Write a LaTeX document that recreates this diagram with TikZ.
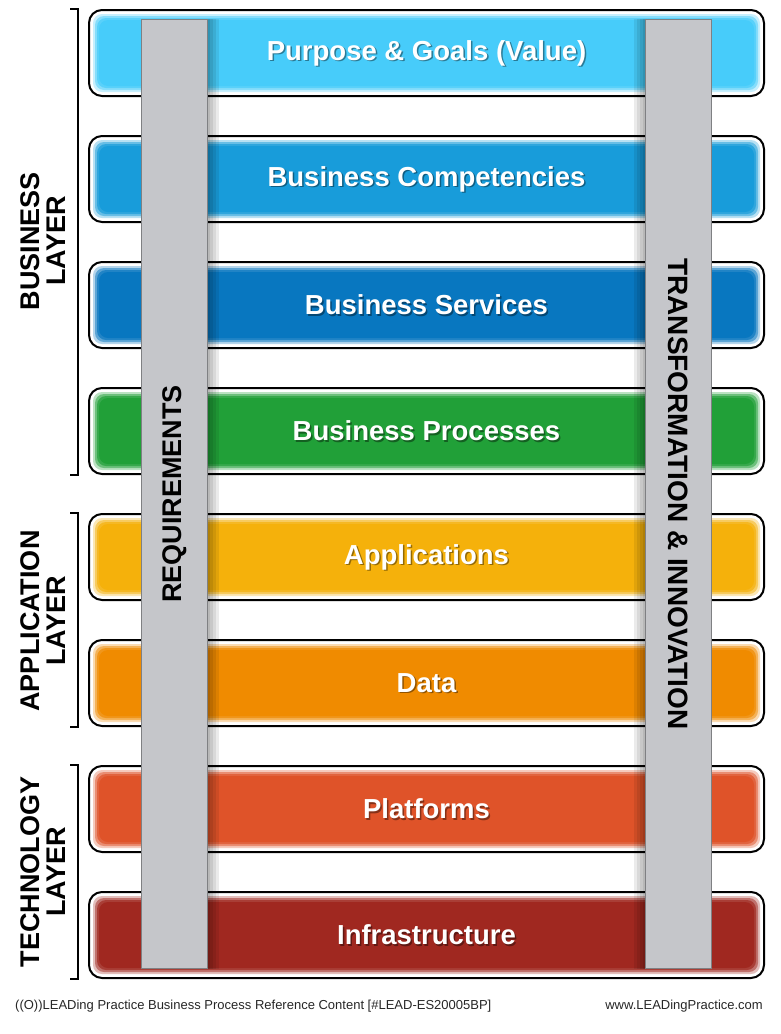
\documentclass[tikz,border=0pt]{standalone}
\usepackage{fontspec}
\setmainfont{Liberation Sans}
\usepackage{tikz}
\usetikzlibrary{positioning,calc}

\definecolor{purposecol}{HTML}{47CCFA}
\definecolor{competcol}{HTML}{189CDA}
\definecolor{servicecol}{HTML}{0877C0}
\definecolor{processcol}{HTML}{21A038}
\definecolor{appcol}{HTML}{F5B10B}
\definecolor{datacol}{HTML}{F08B00}
\definecolor{platformcol}{HTML}{DF5329}
\definecolor{infracol}{HTML}{A02820}
\definecolor{barfill}{HTML}{C5C6CA}
\definecolor{barline}{HTML}{7F8083}

\tikzset{
  rowbox/.style={draw=black, line width=2pt, fill=white, rounded corners=13pt,
    minimum width=675pt, minimum height=86pt, inner sep=0pt},
  rowtext/.style={text=white, font=\bfseries\fontsize{27.5}{30}\selectfont},
  rowshade/.style={text=black, opacity=0.4, font=\bfseries\fontsize{27.5}{30}\selectfont},
  graybar/.style={draw=barline, fill=barfill, line width=1pt,
    minimum width=66pt, minimum height=949pt, inner sep=0pt},
  bartext/.style={font=\bfseries\fontsize{27}{30}\selectfont},
  layertag/.style={align=center, font=\bfseries\fontsize{27}{26.5}\selectfont},
  bracket/.style={line width=2pt},
  footer/.style={font=\fontsize{13}{15}\selectfont, text=black!85, inner sep=0pt}
}

\begin{document}
\begin{tikzpicture}[x=1pt, y=-1pt]
    \useasboundingbox (0,0) rectangle (780,1034);

    % the eight rows
    \foreach \name/\col/\txt [count=\i from 0] in {
        purpose/purposecol/{Purpose \& Goals (Value)},
        competencies/competcol/{Business Competencies},
        services/servicecol/{Business Services},
        processes/processcol/{Business Processes},
        apps/appcol/{Applications},
        data/datacol/{Data},
        platforms/platformcol/{Platforms},
        infra/infracol/{Infrastructure}}{
        \node[rowbox] (\name) at (426.5, 53+126*\i) {};
        \foreach \d/\o in {5/0.3, 7/0.5, 9/0.7, 11/1}{
            \fill[\col, opacity=\o, rounded corners=9pt]
                ($(\name.south west)+(\d pt,\d pt)$) rectangle ($(\name.north east)+(-\d pt,-\d pt)$);
        }
        \node[rowshade] at ([xshift=1.5pt, yshift=-1.5pt]\name.center) {\txt};
        \node[rowtext] (\name-text) at (\name.center) {\txt};
    }

    % shadows of the bars
    \foreach \d in {2,5,8,11}{
        \fill[black, opacity=0.08] (141+\d,19) rectangle (208+\d,969);
        \fill[black, opacity=0.08] (645-\d,19) rectangle (712-\d,969);
    }

    % vertical bars
    \node[graybar] (reqbar) at (174.5,494) {};
    \node[graybar] (transbar) at (678.5,494) {};
    \node[bartext, rotate=90] (reqtext) at (reqbar.center) {REQUIREMENTS};
    \node[bartext, rotate=-90, font=\bfseries\fontsize{28}{30}\selectfont] (transtext)
        at (transbar.center) {TRANSFORMATION \& INNOVATION};

    % layer brackets
    \draw[bracket] ([xshift=-18pt]purpose.north west) -- ([xshift=-10pt]purpose.north west)
        -- ([xshift=-10pt]processes.south west) -- ([xshift=-18pt]processes.south west);
    \draw[bracket] ([xshift=-18pt]apps.north west) -- ([xshift=-10pt]apps.north west)
        -- ([xshift=-10pt]data.south west) -- ([xshift=-18pt]data.south west);
    \draw[bracket] ([xshift=-18pt]platforms.north west) -- ([xshift=-10pt]platforms.north west)
        -- ([xshift=-10pt]infra.south west) -- ([xshift=-18pt]infra.south west);

    \node[layertag, rotate=90] (business) at (43,241) {BUSINESS\\LAYER};
    \node[layertag, rotate=90] (application) at (43,621) {APPLICATION\\LAYER};
    \node[layertag, rotate=90] (technology) at (43,872) {TECHNOLOGY\\LAYER};

    % footer
    \node[footer, anchor=west] (source) at (15,1006)
        {((O))LEADing Practice Business Process Reference Content [\#LEAD-ES20005BP]};
    \node[footer, anchor=east] (website) at (763,1006) {www.LEADingPractice.com};
\end{tikzpicture}
\end{document}
